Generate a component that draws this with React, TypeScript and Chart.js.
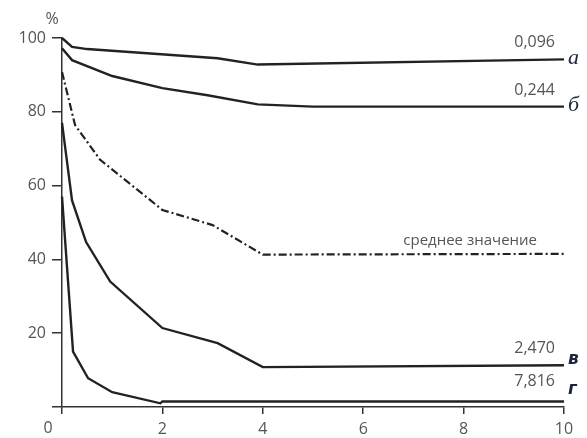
import React, { useEffect, useRef } from "react";
import { Chart, registerables } from "chart.js";

Chart.register(...registerables);

// Data
const xA = [0, 0.2, 0.5, 3.1, 3.9, 10];
const yA = [100, 97.6, 97, 94.5, 92.8, 94.2];
const xB = [0, 0.2, 1.0, 2.0, 2.9, 3.9, 5, 10];
const yB = [97.2, 94, 89.7, 86.4, 84.5, 82, 81.4, 81.4];
const xMean = [0, 0.26, 0.76, 2.0, 3.0, 4.0, 10];
const yMean = [90.8, 76.4, 67, 53.4, 49.3, 41.3, 41.5];
const xV = [0, 0.2, 0.48, 0.96, 2.0, 3.1, 4.0, 10];
const yV = [77, 56, 44.7, 34, 21.4, 17.3, 10.8, 11.3];
const xG = [0, 0.22, 0.52, 1.0, 1.96, 2.0, 10];
const yG = [57, 15, 7.8, 4, 1, 1.5, 1.5];

const seriesValues = ["0,096", "0,244", "2,470", "7,816"];
const seriesLetters = ["а", "б", "в", "г"];
const meanLabel = "среднее значение";
const yUnit = "%";
const xTickValues = [0, 2, 4, 6, 8, 10];
const yTickValues = [0, 20, 40, 60, 80, 100];

const toPts = (xs: number[], ys: number[]) => xs.map((x, i) => ({ x, y: ys[i] }));

const LINE = "#222";
const AXIS = "#333";
const TEXT = "#555";

const labelsPlugin = {
  id: "sideLabels",
  afterDatasetsDraw(chart: any) {
    const { ctx, scales, chartArea } = chart;
    const xs = scales.x;
    const ys = scales.y;
    const xEnd = xs.getPixelForValue(10);
    const solid = [
      { ys: yA, letterFont: "italic 22px 'Liberation Serif'", numDy: -12, letDy: 5 },
      { ys: yB, letterFont: "italic 22px 'Liberation Serif'", numDy: -12, letDy: 4 },
      { ys: yV, letterFont: "oblique bold 17px 'DejaVu Sans'", numDy: -12, letDy: -1 },
      { ys: yG, letterFont: "oblique bold 17px 'DejaVu Sans'", numDy: -15, letDy: -7 },
    ];
    ctx.save();
    solid.forEach((s, i) => {
      const yp = ys.getPixelForValue(s.ys[s.ys.length - 1]);
      ctx.font = "16px 'Open Sans'";
      ctx.fillStyle = TEXT;
      ctx.textAlign = "right";
      ctx.textBaseline = "alphabetic";
      ctx.fillText(seriesValues[i], xEnd - 9, yp + s.numDy);
      ctx.font = s.letterFont;
      ctx.fillStyle = "#1c2540";
      ctx.textAlign = "left";
      ctx.fillText(seriesLetters[i], xEnd + 4, yp + s.letDy);
    });
    const ym = ys.getPixelForValue(yMean[yMean.length - 1]);
    ctx.font = "15px 'Open Sans'";
    ctx.fillStyle = TEXT;
    ctx.textAlign = "right";
    ctx.fillText(meanLabel, xEnd - 27, ym - 9);
    // unit and zero corner label
    ctx.textAlign = "center";
    ctx.font = "16px 'Open Sans'";
    ctx.fillText(yUnit, chartArea.left - 10, chartArea.top - 14);
    ctx.textBaseline = "middle";
    ctx.fillText(String(xTickValues[0]), chartArea.left - 14, chartArea.bottom + 21);
    ctx.restore();
  },
};

export default function App() {
  const ref = useRef<HTMLCanvasElement | null>(null);
  useEffect(() => {
    if (!ref.current) return;
    const base = {
      borderColor: LINE,
      borderWidth: 2.4,
      pointRadius: 0,
      fill: false,
      tension: 0,
      clip: false as any,
    };
    const chart = new Chart(ref.current, {
      type: "line",
      data: {
        datasets: [
          { ...base, data: toPts(xA, yA) },
          { ...base, data: toPts(xB, yB) },
          { ...base, data: toPts(xMean, yMean), borderDash: [8, 3, 2, 3], borderWidth: 2.2 },
          { ...base, data: toPts(xV, yV) },
          { ...base, data: toPts(xG, yG) },
        ],
      },
      options: {
        animation: false,
        responsive: true,
        maintainAspectRatio: false,
        layout: { padding: { top: 38, right: 23, left: 0, bottom: 0 } },
        plugins: { legend: { display: false }, tooltip: { enabled: false } },
        scales: {
          x: {
            type: "linear",
            min: 0,
            max: 10,
            afterBuildTicks: (s: any) => {
              s.ticks = xTickValues.map((v) => ({ value: v }));
            },
            afterFit: (s: any) => {
              s.height = 31;
            },
            ticks: {
              color: TEXT,
              font: { family: "'Open Sans'", size: 16 },
              padding: 6,
              maxRotation: 0,
              autoSkip: false,
              callback: (v: any) => (v === 0 ? "" : String(v)),
            },
            grid: { drawOnChartArea: false, drawTicks: true, tickLength: 7, color: AXIS, lineWidth: 1.5 },
            border: { display: true, color: AXIS, width: 1.5 },
          },
          y: {
            type: "linear",
            min: 0,
            max: 100,
            afterBuildTicks: (s: any) => {
              s.ticks = yTickValues.map((v) => ({ value: v }));
            },
            afterFit: (s: any) => {
              s.width = 62;
            },
            ticks: {
              color: TEXT,
              font: { family: "'Open Sans'", size: 16 },
              padding: 6,
              autoSkip: false,
              callback: (v: any) => (v === 0 ? "" : String(v)),
            },
            grid: { drawOnChartArea: false, drawTicks: true, tickLength: 10, color: AXIS, lineWidth: 1.5 },
            border: { display: true, color: AXIS, width: 1.5 },
          },
        },
      },
      plugins: [labelsPlugin],
    } as any);
    return () => chart.destroy();
  }, []);
  return (
    <div style={{ position: "fixed", left: 0, top: 0, width: 587, height: 438, background: "#fff" }}>
      <canvas ref={ref} />
    </div>
  );
}
